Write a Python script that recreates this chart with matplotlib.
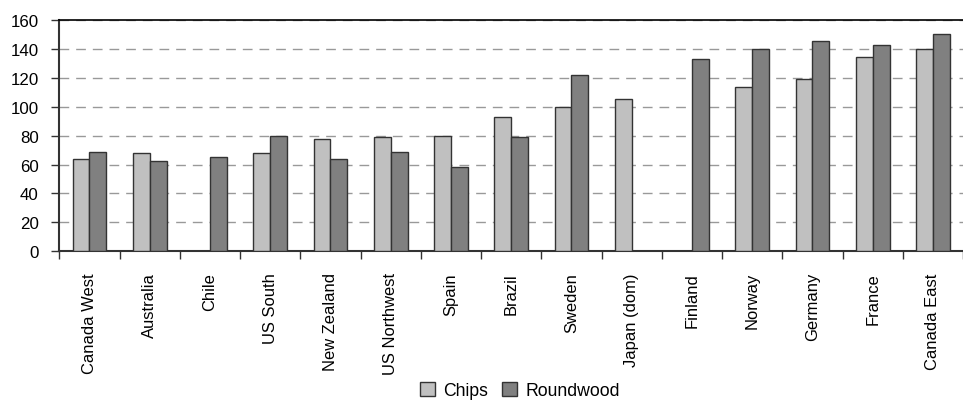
import matplotlib.pyplot as plt
import numpy as np

regions = ["Canada West", "Australia", "Chile", "US South", "New Zealand",
           "US Northwest", "Spain", "Brazil", "Sweden", "Japan (dom)",
           "Finland", "Norway", "Germany", "France", "Canada East"]
chips = [64, 68, np.nan, 68, 77.5, 79, 80, 93, 100, 105,
         np.nan, 113.5, 119, 134.5, 140]
roundwood = [69, 62.5, 65, 80, 64, 69, 58.5, 79, 122, np.nan,
             133, 140, 145.5, 143, 150]

plt.rcParams['font.family'] = ['Liberation Sans', 'DejaVu Sans']

fig = plt.figure(figsize=(9.63, 4.02), dpi=100)
ax = fig.add_axes([0.0616, 0.3724, 0.9384, 0.5754])

x = np.arange(len(regions))
w = 0.28
ax.bar(x - w / 2, chips, w, color='#c0c0c0', edgecolor='#333333',
       linewidth=1, label='Chips', zorder=3)
ax.bar(x + w / 2, roundwood, w, color='#808080', edgecolor='#333333',
       linewidth=1, label='Roundwood', zorder=3)

ax.set_xlim(-0.5, len(regions) - 0.5)
ax.set_ylim(0, 160)
ax.set_yticks(range(0, 161, 20))
ax.tick_params(axis='y', labelsize=12.2, length=5.8, width=1,
               color='#333333', pad=9)

# category names sit between the boundary ticks
ax.set_xticks(np.arange(-0.5, len(regions), 1.0))
ax.set_xticklabels([])
ax.set_xticks(x, minor=True)
ax.set_xticklabels(regions, minor=True, rotation=90, fontsize=11.9,
                   va='top', ha='center')
ax.tick_params(axis='x', which='major', length=5.8, width=1, color='#333333')
ax.tick_params(axis='x', which='minor', length=0, pad=15)

ax.yaxis.grid(True, linestyle=(0, (7, 5)), color='#999999', linewidth=1,
              zorder=0)
for s in ['left', 'bottom']:
    ax.spines[s].set_color('#333333')
    ax.spines[s].set_linewidth(1.5)
ax.spines['top'].set_color('black')
ax.spines['top'].set_linewidth(1.2)
ax.spines['right'].set_visible(False)

fig.legend(loc='lower center', bbox_to_anchor=(0.54, -0.018), ncol=2,
           frameon=False, fontsize=12.7, handlelength=0.85, handleheight=0.85,
           handletextpad=0.45, columnspacing=0.8, borderpad=0)

fig.savefig('out.png', dpi=100)
